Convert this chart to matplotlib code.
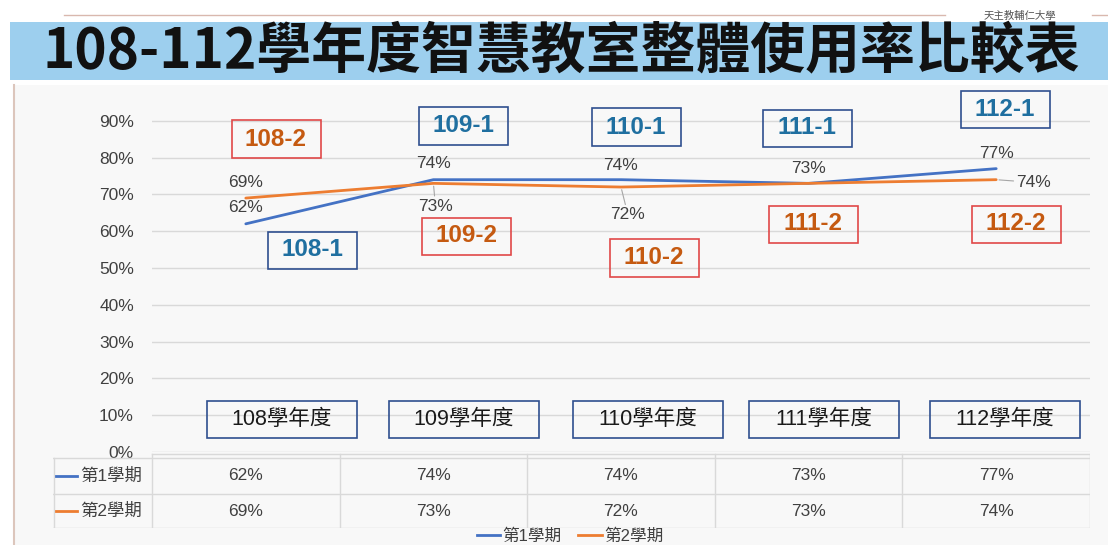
import matplotlib.pyplot as plt
from matplotlib.patches import Rectangle
from matplotlib.lines import Line2D

plt.rcParams['font.family'] = ['Liberation Sans', 'Noto Sans CJK TC']

# data
years = ['108', '109', '110', '111', '112']
year_labels = ['108學年度', '109學年度', '110學年度', '111學年度', '112學年度']
sem1 = [0.62, 0.74, 0.74, 0.73, 0.77]
sem2 = [0.69, 0.73, 0.72, 0.73, 0.74]
series_names = ['第1學期', '第2學期']
yticks = [0, 0.1, 0.2, 0.3, 0.4, 0.5, 0.6, 0.7, 0.8, 0.9]
title = '108-112學年度智慧教室整體使用率比較表'

blue = '#4472c4'
orange = '#ed7d31'
tag_blue = '#1f6fa0'
tag_orange = '#c55a11'
navy = '#2f4f8f'
red = '#e04848'
grey_txt = '#404040'

W, H = 1108, 545
fig = plt.figure(figsize=(W / 100, H / 100), dpi=100)
fig.patch.set_facecolor('white')

# chart background + left border
fig.patches.append(Rectangle((14 / W, 0), 1 - 14 / W, 1 - 85 / H, transform=fig.transFigure,
                             facecolor='#f8f8f8', edgecolor='none', zorder=-2))
fig.lines.append(Line2D([14 / W, 14 / W], [0, 1 - 85 / H], transform=fig.transFigure,
                        color='#dcc6bc', lw=1.5, zorder=-1))

# header band
fig.patches.append(Rectangle((10 / W, 1 - 80 / H), 1 - 10 / W, 58 / H, transform=fig.transFigure,
                             facecolor='#9dcfee', edgecolor='none', zorder=-1))
for x0, x1 in [(64, 945), (1092, 1108)]:
    fig.lines.append(Line2D([x0 / W, x1 / W], [1 - 15 / H, 1 - 15 / H], transform=fig.transFigure,
                            color='#d9b8ae', lw=1, zorder=-1))
fig.text(1020 / W, 1 - 16 / H, '天主教輔仁大學', ha='center', va='center', fontsize=7.5,
         color='#555555', family=['Noto Sans CJK TC'])
fig.text(561 / W, 1 - 51 / H, title, ha='center', va='center', fontsize=39.5,
         fontweight='bold', color='#111111', family=['Noto Sans CJK TC', 'DejaVu Sans'])

# main axes
ax = fig.add_axes([152 / W, 1 - 452 / H, (1090 - 152) / W, (452 - 84) / H])
ax.set_facecolor('none')
ax.set_xlim(-0.5, 4.5)
ax.set_ylim(0, 1)
ax.set_yticks(yticks)
ax.set_yticklabels([f'{int(round(v * 100))}%' for v in yticks])
ax.set_xticks([])
ax.tick_params(axis='y', length=0, pad=13, labelsize=12.5, labelcolor=grey_txt)
ax.yaxis.grid(True, color='#d9d9d9', lw=1)
ax.set_axisbelow(True)
for s in ax.spines.values():
    s.set_visible(False)

x = list(range(len(years)))
ax.plot(x, sem1, color=blue, lw=2, solid_capstyle='round', zorder=3)
ax.plot(x, sem2, color=orange, lw=2, solid_capstyle='round', zorder=3)

# data labels (offsets in points, leader flag)
lab1 = [(0, 11.5, False), (0, 12, False), (0, 10.5, False), (0, 11, False), (0, 11, False)]
lab2 = [(0, 11.5, False), (1.5, -16.5, True), (5, -20, True), None, (27, -2, True)]
for vals, offs in [(sem1, lab1), (sem2, lab2)]:
    for i, v in enumerate(vals):
        if offs[i] is None:
            continue
        dx, dy, lead = offs[i]
        ap = dict(arrowstyle='-', color='#a6a6a6', lw=0.8, shrinkA=0, shrinkB=2) if lead else None
        ax.annotate(f'{int(round(v * 100))}%', (i, v), xytext=(dx, dy), textcoords='offset points',
                    ha='center', va='center', fontsize=12.5, color=grey_txt,
                    arrowprops=ap, zorder=4)


def px2x(px):
    return (px - 152) / 187.6 - 0.5


def py2y(py):
    return (452 - py) / 368


def tag(cx, cy, w, h, text, tcolor, ecolor, fs, weight):
    ax.add_patch(Rectangle((px2x(cx - w / 2), py2y(cy + h / 2)), w / 187.6, h / 368,
                           facecolor='none', edgecolor=ecolor, lw=1.2, clip_on=False, zorder=5))
    ax.text(px2x(cx), py2y(cy), text, ha='center', va='center', fontsize=fs,
            fontweight=weight, color=tcolor, zorder=6, clip_on=False)


# semester tags (pixel layout)
tags1 = [(312, 250), (463, 126), (636, 127), (807, 128), (1005, 109)]
tags2 = [(276, 139), (466, 236), (654, 258), (813, 224), (1016, 224)]
for i, yr in enumerate(years):
    tag(*tags1[i], 89, 37, f'{yr}-1', tag_blue, navy, 17.5, 'bold')
    tag(*tags2[i], 89, 37, f'{yr}-2', tag_orange, red, 17.5, 'bold')

# year boxes
year_cx = [282, 464, 648, 824, 1005]
for i, lab in enumerate(year_labels):
    tag(year_cx[i], 419.5, 150, 37, lab, '#1a1a1a', navy, 15.5, 'normal')

# data table
tax = fig.add_axes([53 / W, 1 - 528 / H, (1090 - 53) / W, (528 - 453) / H])
tax.set_xlim(53, 1090)
tax.set_ylim(528, 453)
tax.axis('off')
gc = '#d9d9d9'
col_edges = [152 + 187.6 * k for k in range(6)]
tax.plot([152, 1090], [453.5, 453.5], color=gc, lw=1)
for yy in [458, 494, 527.5]:
    tax.plot([53, 1090], [yy, yy], color=gc, lw=1)
tax.plot([53.5, 53.5], [458, 527.5], color=gc, lw=1)
for xe in col_edges:
    tax.plot([xe, xe], [453.5, 527.5], color=gc, lw=1)
row_y = [476, 511]
for r, (vals, col) in enumerate([(sem1, blue), (sem2, orange)]):
    tax.plot([56, 77], [row_y[r], row_y[r]], color=col, lw=2)
    tax.text(80, row_y[r], series_names[r], ha='left', va='center', fontsize=12.5, color=grey_txt)
    for i, v in enumerate(vals):
        tax.text(152 + 187.6 * (i + 0.5), row_y[r], f'{int(round(v * 100))}%',
                 ha='center', va='center', fontsize=12.5, color=grey_txt)

# legend
handles = [Line2D([], [], color=blue, lw=2), Line2D([], [], color=orange, lw=2)]
leg = fig.legend(handles, series_names, loc='center', bbox_to_anchor=(570 / W, 1 - 536 / H),
                 ncol=2, frameon=False, fontsize=12, handlelength=1.4, handletextpad=0.15,
                 columnspacing=1.0, borderpad=0.1)
for t in leg.get_texts():
    t.set_color(grey_txt)

fig.savefig('out.png', dpi=100, facecolor=fig.get_facecolor())
